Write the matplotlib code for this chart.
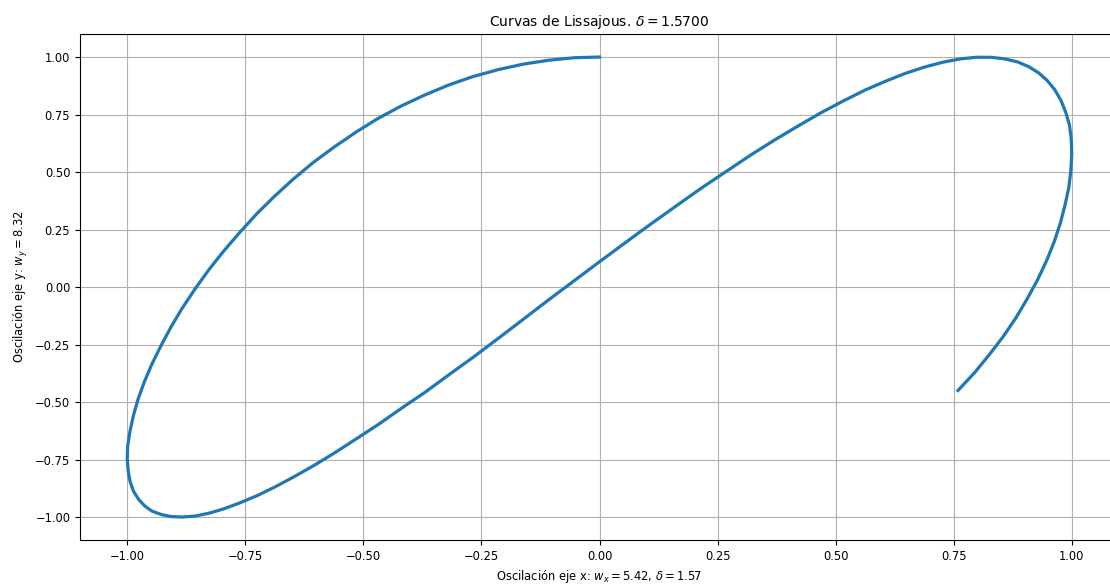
import matplotlib
matplotlib.use("Agg")
import matplotlib.pyplot as plt

# Points (start at top centre, end lower right)
x_vals = [0.000, -0.054, -0.108, -0.162, -0.215, -0.268, -0.320, -0.370, -0.420, -0.469,
          -0.516, -0.561, -0.606, -0.648, -0.688, -0.726, -0.762, -0.796, -0.828, -0.857,
          -0.884, -0.908, -0.929, -0.948, -0.964, -0.977, -0.987, -0.994, -0.999, -1.000,
          -0.998, -0.994, -0.987, -0.976, -0.963, -0.948, -0.928, -0.907, -0.883, -0.857,
          -0.826, -0.795, -0.761, -0.725, -0.686, -0.646, -0.604, -0.560, -0.515, -0.468,
          -0.420, -0.369, -0.320, -0.266, -0.213, -0.160, -0.106, -0.052, 0.002, 0.056,
          0.110, 0.164, 0.217, 0.270, 0.321, 0.372, 0.422, 0.470, 0.518, 0.563,
          0.607, 0.649, 0.689, 0.728, 0.764, 0.798, 0.829, 0.858, 0.885, 0.909,
          0.930, 0.948, 0.964, 0.977, 0.987, 0.995, 0.999, 1.000, 0.998, 0.994,
          0.986, 0.976, 0.963, 0.947, 0.928, 0.906, 0.882, 0.855, 0.825, 0.794,
          0.759]
y_vals = [1.000, 0.997, 0.986, 0.969, 0.945, 0.915, 0.878, 0.835, 0.787, 0.733,
          0.673, 0.610, 0.542, 0.470, 0.395, 0.318, 0.237, 0.156, 0.073, -0.010,
          -0.093, -0.176, -0.257, -0.336, -0.413, -0.487, -0.559, -0.625, -0.689, -0.747,
          -0.800, -0.846, -0.887, -0.923, -0.952, -0.974, -0.989, -0.998, -1.000, -0.996,
          -0.983, -0.964, -0.938, -0.907, -0.868, -0.824, -0.775, -0.720, -0.660, -0.597,
          -0.528, -0.457, -0.383, -0.303, -0.221, -0.138, -0.053, 0.030, 0.113, 0.195,
          0.276, 0.355, 0.432, 0.505, 0.575, 0.641, 0.702, 0.759, 0.811, 0.857,
          0.896, 0.930, 0.957, 0.978, 0.992, 0.999, 0.999, 0.992, 0.979, 0.958,
          0.931, 0.898, 0.858, 0.812, 0.761, 0.705, 0.643, 0.578, 0.507, 0.435,
          0.359, 0.279, 0.198, 0.116, 0.033, -0.050, -0.133, -0.215, -0.295, -0.373,
          -0.450]

x_ticks = [-1.00, -0.75, -0.50, -0.25, 0.00, 0.25, 0.50, 0.75, 1.00]
y_ticks = [-1.00, -0.75, -0.50, -0.25, 0.00, 0.25, 0.50, 0.75, 1.00]

title = r"Curvas de Lissajous. $\delta = 1.5700$"
xlabel = r"Oscilación eje x: $w_x = 5.42$, $\delta = 1.57$"
ylabel = r"Oscilación eje y: $w_y = 8.32$"

fig = plt.figure(figsize=(11.1, 5.84), dpi=100)
ax = fig.add_axes([0.0721, 0.0753, 0.936, 0.8664])

ax.plot(x_vals, y_vals, color="#1f77b4", linewidth=2.3, solid_joinstyle="round")

ax.set_xlim(-1.1, 1.1)
ax.set_ylim(-1.1, 1.1)
ax.set_xticks(x_ticks)
ax.set_yticks(y_ticks)
ax.tick_params(labelsize=8.3)
ax.grid(True)
# the right border lies outside the cropped picture
ax.spines["right"].set_visible(False)

ax.set_title(title, fontsize=10)
ax.set_xlabel(xlabel, fontsize=8.3)
ax.set_ylabel(ylabel, fontsize=8.3)

fig.savefig("out.png", dpi=100, facecolor="white")
plt.close(fig)
